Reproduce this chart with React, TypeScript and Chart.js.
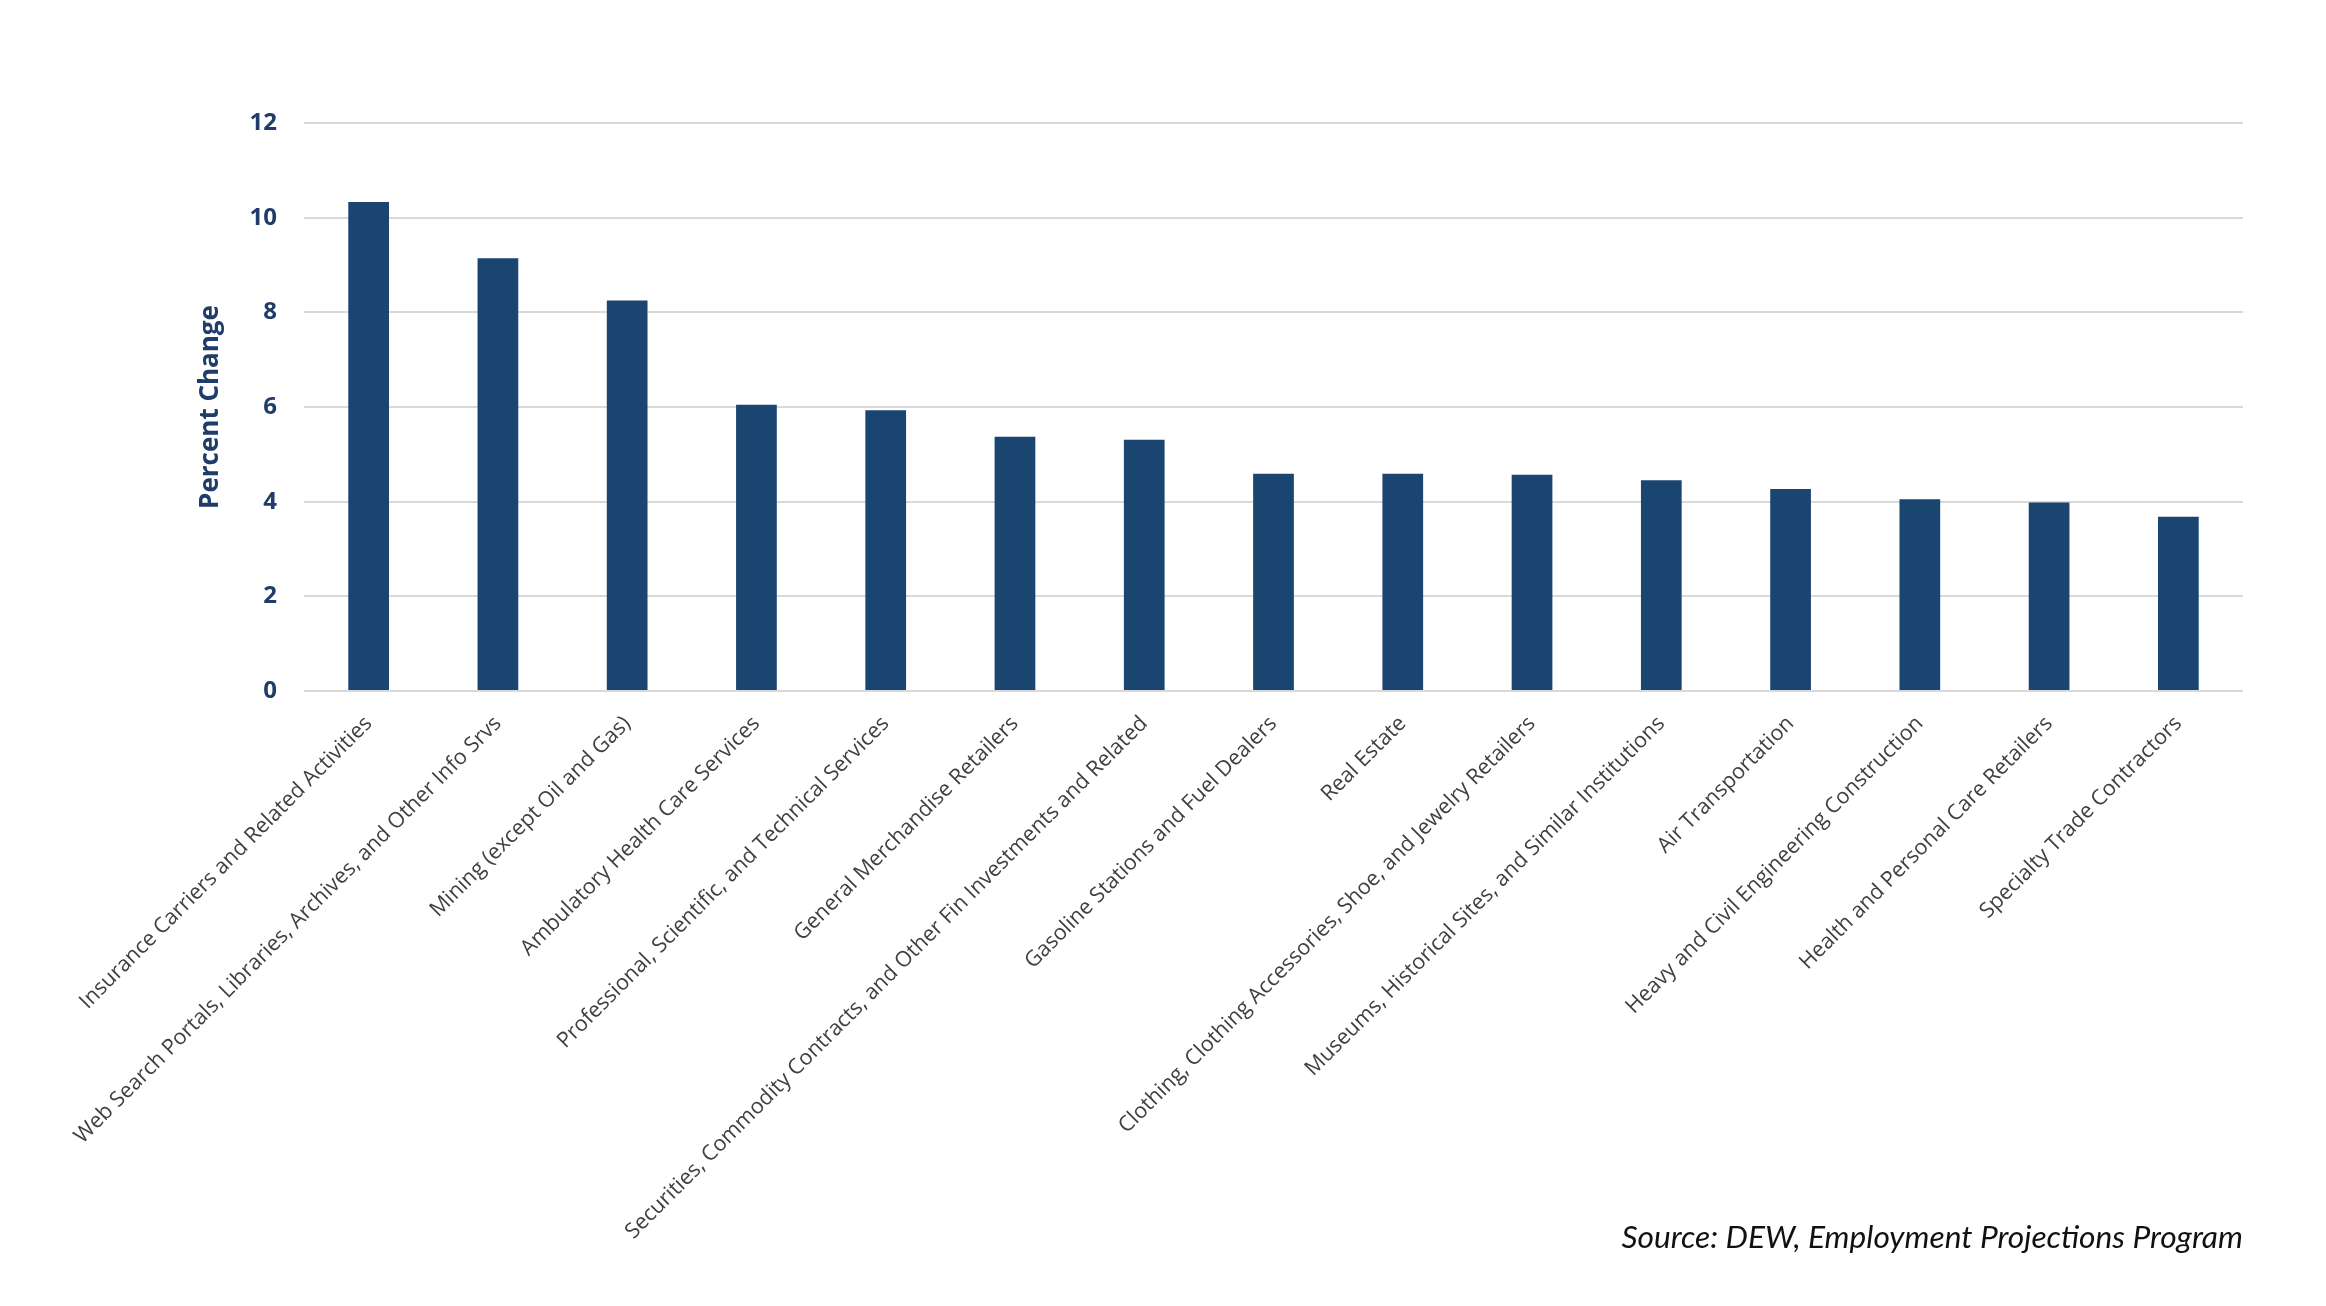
import React, { useEffect, useRef } from "react";
import { Chart, registerables } from "chart.js";

Chart.register(...registerables);

const categories = [
  "Insurance Carriers and Related Activities",
  "Web Search Portals, Libraries, Archives, and Other Info Srvs",
  "Mining (except Oil and Gas)",
  "Ambulatory Health Care Services",
  "Professional, Scientific, and Technical Services",
  "General Merchandise Retailers",
  "Securities, Commodity Contracts, and Other Fin Investments and Related",
  "Gasoline Stations and Fuel Dealers",
  "Real Estate",
  "Clothing, Clothing Accessories, Shoe, and Jewelry Retailers",
  "Museums, Historical Sites, and Similar Institutions",
  "Air Transportation",
  "Heavy and Civil Engineering Construction",
  "Health and Personal Care Retailers",
  "Specialty Trade Contractors",
];

const percentChange = [10.33, 9.14, 8.25, 6.05, 5.93, 5.37, 5.31, 4.59, 4.59, 4.57, 4.45, 4.27, 4.05, 3.98, 3.68];

const yAxisTitle = "Percent Change";
const sourceNote = "Source: DEW, Employment Projections Program";

export default function App() {
  const canvasRef = useRef<HTMLCanvasElement | null>(null);

  useEffect(() => {
    if (!canvasRef.current) return;
    const chart = new Chart(canvasRef.current, {
      type: "bar",
      data: {
        labels: categories,
        datasets: [
          {
            label: yAxisTitle,
            data: percentChange,
            backgroundColor: "#1a4571",
            categoryPercentage: 1,
            barPercentage: 0.315,
          },
        ],
      },
      options: {
        animation: false,
        responsive: true,
        maintainAspectRatio: false,
        layout: { padding: { left: 0, right: 83, top: 123, bottom: 0 } },
        plugins: {
          legend: { display: false },
          tooltip: { enabled: false },
          title: { display: false },
        },
        scales: {
          x: {
            grid: { display: false },
            border: { display: false },
            ticks: {
              autoSkip: false,
              minRotation: 45,
              maxRotation: 45,
              padding: 12,
              color: "#404040",
              font: { family: "'Open Sans'", size: 21.5 },
            },
            afterFit: (scale: any) => {
              scale.height = 615;
            },
          },
          y: {
            min: 0,
            max: 12,
            border: { display: false },
            grid: { color: "#d9d9d9", lineWidth: 2, drawTicks: false },
            ticks: {
              stepSize: 2,
              padding: 27,
              color: "#1f3d68",
              font: { family: "'Open Sans'", size: 24, weight: "bold" },
            },
            title: {
              display: true,
              text: yAxisTitle,
              color: "#1f3d68",
              font: { family: "'Open Sans'", size: 26, weight: "bold" },
              padding: { top: 195, bottom: 0 },
            },
            afterFit: (scale: any) => {
              scale.width = 304;
            },
          },
        },
      },
    });
    return () => chart.destroy();
  }, []);

  return (
    <div style={{ position: "absolute", left: 0, top: 0, width: 2326, height: 1306, background: "#fff" }}>
      <canvas ref={canvasRef} />
      <div
        style={{
          position: "absolute",
          right: 83,
          top: 1217,
          fontFamily: "Lato, 'Open Sans', sans-serif",
          fontStyle: "italic",
          fontSize: 31.7,
          color: "#111",
          whiteSpace: "nowrap",
        }}
      >
        {sourceNote}
      </div>
    </div>
  );
}
